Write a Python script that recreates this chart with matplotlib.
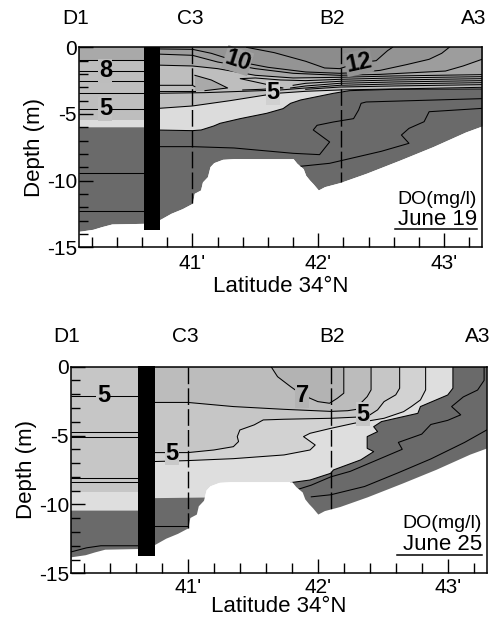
import numpy as np
import matplotlib
matplotlib.use('Agg')
import matplotlib.pyplot as plt
from matplotlib.ticker import MultipleLocator, FixedLocator
from matplotlib.transforms import blended_transform_factory

plt.rcParams['font.family'] = ['Liberation Sans', 'DejaVu Sans']
plt.rcParams['axes.unicode_minus'] = False

# stations along the transect (latitude = minutes past 34°N)
station_names = ['D1', 'C3', 'B2', 'A3']
station_lat = [40.07, 40.98, 42.11, 43.23]
lat_ticks = [41, 42, 43]
lat_labels = ["41'", "42'", "43'"]
depth_ticks = [0, -5, -10, -15]

# bottom profile of the transect
seabed_lat = [40.10, 40.21, 40.28, 40.36, 40.62, 40.745, 40.83, 40.92, 41.0, 41.015, 41.065,
              41.08, 41.12, 41.14, 41.17, 41.24, 41.33, 41.80, 41.83, 41.88, 41.90, 41.93,
              41.96, 42.0, 42.05, 42.17, 42.38, 42.65, 42.91, 43.17, 43.30]
seabed_depth = [-13.8, -13.65, -13.45, -13.25, -13.2, -12.9, -12.45, -12.1, -11.7, -10.95, -10.7,
                -10.1, -9.7, -8.95, -8.65, -8.4, -8.35, -8.35, -8.7, -9.1, -9.6, -9.95,
                -10.25, -10.7, -10.45, -10.15, -9.45, -8.45, -7.45, -6.35, -5.9]

# black bar (structure near D1)
bar_lat = [40.615, 40.745]
bar_depth = -13.72

# ---------------- June 19 ----------------
j19_dashed = [41.0, 42.18]
j19_left_levels = [-0.95, -1.75, -2.5, -3.4, -4.6, -9.45, -12.25]
j19_b4 = [(40.10, -6.0), (40.70, -6.0), (40.70, -6.2), (41.0, -6.25), (41.07, -6.2), (41.17, -5.9),
          (41.22, -5.7), (41.38, -5.35), (41.59, -4.95), (41.72, -4.6), (41.78, -4.2), (41.86, -3.95),
          (41.99, -3.7), (42.12, -3.45), (42.25, -3.25), (42.6, -3.15), (43.30, -3.12)]
j19_b5 = [(40.10, -5.45), (40.70, -5.45), (40.70, -4.6), (41.0, -4.4), (41.3, -4.0), (41.5, -3.7),
          (41.67, -3.45), (41.9, -3.3), (42.17, -3.2), (43.30, -3.0)]
j19_b9 = [(40.10, -0.95), (40.70, -0.95), (40.70, -1.33), (41.0, -1.4), (41.2, -1.6), (41.5, -2.1),
          (41.8, -2.3), (42.17, -2.25), (42.6, -2.15), (43.30, -2.05)]
j19_c = [(40.70, -0.5), (41.0, -0.6), (41.2, -1.1), (41.5, -1.6), (41.8, -1.95), (42.17, -2.1),
         (42.49, -2.03), (43.01, -1.78), (43.15, -1.4), (43.30, -0.9)]
j19_a = [(40.70, -0.12), (41.0, -0.15), (41.15, -0.45), (41.35, -1.05), (41.6, -1.5), (41.9, -1.85),
         (42.17, -1.95), (42.3, -1.9), (42.49, -1.73), (42.7, -1.3), (42.88, -0.9), (42.98, -0.45),
         (43.04, 0)]
j19_b = [(41.43, 0), (41.65, -0.4), (41.9, -1.05), (42.05, -1.55), (42.17, -1.6), (42.3, -1.2),
         (42.46, -1.0), (42.55, -0.25), (42.59, 0)]
j19_tongue = [(41.02, -2.1), (41.15, -2.45), (41.28, -3.05), (41.1, -3.25), (41.02, -3.3)]
j19_lines = [
    [(40.70, -2.85), (41.0, -2.85), (41.02, -2.95)],
    [(41.02, -3.3), (40.70, -3.3)],
    [(43.30, -2.2), (42.6, -2.3), (42.17, -2.4), (41.9, -2.5), (41.7, -2.45), (41.5, -2.3),
     (41.38, -2.35), (41.55, -2.7), (41.72, -3.05), (41.55, -3.15), (41.4, -3.2)],
    [(43.30, -2.35), (42.6, -2.45), (42.17, -2.55), (41.9, -2.7), (41.8, -2.85)],
    [(43.30, -2.5), (42.6, -2.6), (42.17, -2.7), (41.9, -2.9), (41.78, -3.05)],
    [(43.30, -2.65), (42.6, -2.75), (42.17, -2.85), (41.9, -3.05), (41.7, -3.2), (41.4, -3.3),
     (41.1, -3.4), (40.70, -3.45)],
    [(43.30, -2.8), (42.6, -2.9), (42.17, -2.98), (41.9, -3.15)],
    [(40.70, -7.45), (41.0, -7.45), (41.33, -7.55), (41.8, -7.95), (42.01, -8.05), (42.09, -7.1),
     (41.96, -6.2), (41.99, -5.85), (42.12, -5.6), (42.28, -5.35), (42.32, -4.7), (42.34, -4.2),
     (42.38, -4.1), (43.30, -3.85)],
    [(43.30, -4.58), (42.88, -4.83), (42.84, -5.58), (42.72, -6.08), (42.66, -6.58), (42.72, -7.2),
     (42.5, -7.8), (42.09, -8.7), (41.83, -8.95)],
]
j19_labels = [('8', 40.31, -1.75, 0, '#bdbdbd'), ('5', 40.31, -4.6, 0, '#c2c2c2'),
              ('10', 41.36, -1.0, -18, '#a0a0a0'), ('12', 42.32, -1.15, 12, '#939393'),
              ('5', 41.64, -3.4, 0, '#d0d0d0')]

# ---------------- June 25 ----------------
j25_dashed = [41.0, 42.1]
j25_left_levels = [-2.13, -4.72, -5.13, -8.1, -8.35]
j25_left_zone = [-9.07]
j25_dark_left = [(40.10, -10.45), (40.70, -10.45), (40.70, -9.55), (41.15, -9.5)]
j25_dark_right = [(43.04, 0), (43.04, -1.57), (43.0, -2.06), (42.79, -2.9), (42.77, -3.39),
                  (42.49, -3.99), (42.43, -4.36), (42.46, -4.72), (42.38, -5.08), (42.38, -5.93),
                  (42.43, -6.17), (42.33, -6.77), (42.12, -7.5), (42.1, -7.74), (41.94, -8.23),
                  (41.79, -8.42)]
j25_w2 = [(40.70, -6.9), (41.0, -6.82), (41.35, -6.68), (41.74, -6.41), (41.94, -6.05), (41.98, -5.69),
          (41.89, -5.08), (41.94, -4.84), (42.1, -4.48), (42.28, -4.11), (42.36, -3.99), (42.51, -3.75),
          (42.66, -3.27), (42.72, -2.9), (42.79, -2.42), (42.83, -1.69), (42.83, 0)]
j25_w1 = [(40.70, -6.24), (41.0, -6.24), (41.2, -6.05), (41.35, -5.81), (41.39, -5.44), (41.38, -5.08),
          (41.4, -4.6), (41.51, -4.23), (41.58, -3.87), (41.74, -3.82), (42.1, -3.75), (42.38, -3.63),
          (42.46, -3.14), (42.51, -2.54), (42.6, -2.05), (42.63, -1.57), (42.63, 0)]
j25_pv = [(40.70, -2.6), (41.0, -2.6), (41.35, -2.9), (41.74, -3.1), (42.1, -3.25), (42.23, -3.2),
          (42.3, -3.1), (42.31, -2.9), (42.33, -2.66), (42.38, -2.18), (42.41, -1.69), (42.41, 0)]
j25_q = [(41.64, 0), (41.69, -0.73), (41.79, -1.45), (41.88, -2.05), (42.0, -2.54), (42.09, -2.66),
         (42.15, -2.3), (42.2, -1.93), (42.2, -1.0), (42.2, 0)]
j25_lines = [
    [(40.10, -13.45), (40.22, -13.15), (40.33, -13.0), (40.70, -13.0)],
    [(40.70, -11.6), (41.05, -11.6)],
    [(43.28, 0), (43.28, -1.0), (43.23, -1.7), (43.12, -2.2), (43.03, -2.9), (43.1, -3.5),
     (43.0, -3.9), (42.87, -4.2), (42.8, -4.9), (42.62, -5.5), (42.65, -6.0), (42.45, -6.8),
     (42.25, -7.6), (42.1, -8.0), (41.95, -8.6), (41.85, -8.9)],
    [(41.95, -9.45), (42.1, -9.3), (42.36, -8.7), (42.62, -7.7), (42.87, -6.7), (43.13, -5.5),
     (43.30, -4.6)],
]
j25_labels = [('5', 40.35, -2.13, 0, '#c6c6c6'), ('5', 40.88, -6.3, 0, '#c9c9c9'),
              ('7', 41.88, -2.1, 0, '#b3b3b3'), ('5', 42.35, -3.45, 0, '#c6c6c6')]

DARK = '#6a6a6a'


def xy(pts):
    return [p[0] for p in pts], [p[1] for p in pts]


def zone_above(ax, pts, color):
    xs, ys = xy(pts)
    ax.fill(xs + [xs[-1], xs[0]], ys + [0, 0], color=color, lw=0, zorder=1)


def zone_below(ax, pts, color):
    xs, ys = xy(pts)
    ax.fill(xs + [xs[-1], xs[0]], ys + [-15, -15], color=color, lw=0, zorder=1)


def iso(ax, pts):
    xs, ys = xy(pts)
    ax.plot(xs, ys, color='k', lw=0.75, zorder=2)


def clabel(ax, s, x, y, rot, bg):
    ax.text(x, y, s, fontsize=17, fontweight='bold', ha='center', va='center', rotation=rot,
            zorder=2.1, bbox=dict(boxstyle='square,pad=0.02', fc=bg, ec='none'))


def setup(ax, dashed, date, tick_pad, xlabelpad):
    # mask below the seabed
    ax.fill_between(seabed_lat, seabed_depth, -15, color='white', lw=0, zorder=2.2)
    for x in dashed:
        bot = np.interp(x, seabed_lat, seabed_depth)
        ax.plot([x, x], [0, bot], color='k', lw=1.0, dashes=(12, 3), zorder=2.3)
    ax.fill_between(bar_lat, bar_depth, 0.05, color='black', lw=0, zorder=2.4, clip_on=False)
    ax.set_xlim(40.10, 43.30)
    ax.set_ylim(-15, 0)
    ax.set_axisbelow(False)
    ax.xaxis.set_major_locator(FixedLocator(lat_ticks))
    ax.set_xticklabels(lat_labels)
    ax.xaxis.set_minor_locator(MultipleLocator(0.2))
    ax.yaxis.set_major_locator(FixedLocator(depth_ticks))
    ax.yaxis.set_minor_locator(MultipleLocator(1))
    ax.tick_params(which='both', direction='in', labelsize=15, width=1.0)
    ax.tick_params(axis='x', which='major', length=10, pad=tick_pad)
    ax.tick_params(axis='x', which='minor', length=7)
    ax.tick_params(axis='y', which='major', length=10, pad=1.5)
    ax.tick_params(axis='y', which='minor', length=6.5)
    for s in ax.spines.values():
        s.set_linewidth(1.1)
        s.set_zorder(2.5)
    ax.set_xlabel('Latitude 34°N', fontsize=16, labelpad=xlabelpad)
    ax.set_ylabel('Depth (m)', fontsize=16, labelpad=1)
    tr = blended_transform_factory(ax.transData, ax.transAxes)
    for name, x in zip(station_names, station_lat):
        ax.text(x, 1.145, name, transform=tr, fontsize=15, ha='center', va='center')
    ax.text(0.988, 0.24, 'DO(mg/l)', transform=ax.transAxes, fontsize=14, ha='right', va='center',
            zorder=3)
    ax.text(0.988, 0.14, date, transform=ax.transAxes, fontsize=16, ha='right', va='center', zorder=3)
    ax.plot([0.784, 0.988], [0.09, 0.09], transform=ax.transAxes, color='k', lw=1.1, zorder=3)


fig = plt.figure(figsize=(5.02, 6.2), dpi=100)

# ---- June 19 panel ----
ax1 = fig.add_axes([0.1574, 0.6011, 0.8028, 0.3226])
ax1.fill_between(seabed_lat, seabed_depth, 0, color=DARK, lw=0, zorder=1)
zone_above(ax1, j19_b4, '#dcdcdc')
zone_above(ax1, j19_b5, '#bebebe')
zone_above(ax1, j19_b9, '#a9a9a9')
zone_above(ax1, j19_c, '#9d9d9d')
zone_above(ax1, j19_a, '#949494')
zone_above(ax1, j19_b, '#8c8c8c')
tx, ty = xy(j19_tongue)
ax1.fill(tx, ty, color='#a9a9a9', lw=0, zorder=1)
ax1.hlines(j19_left_levels, 40.10, bar_lat[0], color='k', lw=0.75, zorder=2)
for pts in [j19_b4[2:], j19_b5[2:], j19_b9[2:], j19_c, j19_a, j19_b, j19_tongue[:-1]] + j19_lines:
    iso(ax1, pts)
for s, x, y, r, bg in j19_labels:
    clabel(ax1, s, x, y, r, bg)
setup(ax1, j19_dashed, 'June 19', 5, 2)

# ---- June 25 panel ----
ax2 = fig.add_axes([0.1414, 0.0753, 0.8281, 0.3334])
ax2.fill_between(seabed_lat, seabed_depth, 0, color='#dedede', lw=0, zorder=1)
ax2.fill_between([40.10, bar_lat[0]], j25_left_zone[0], 0, color='#c6c6c6', lw=0, zorder=1)
zone_below(ax2, j25_dark_left, DARK)
dx, dy = xy(j25_dark_right)
ax2.fill(dx + [41.79, 43.30, 43.30], dy + [-15, -15, 0], color=DARK, lw=0, zorder=1)
for pts, c in [(j25_w2, '#d2d2d2'), (j25_w1, '#c6c6c6'), (j25_pv, '#bcbcbc'), (j25_q, '#b3b3b3')]:
    xs, ys = xy(pts)
    ax2.fill(xs + [40.70], ys + [0], color=c, lw=0, zorder=1)
ax2.hlines(j25_left_levels, 40.10, bar_lat[0], color='k', lw=0.75, zorder=2)
for pts in [j25_dark_right, j25_w2, j25_w1, j25_pv, j25_q] + j25_lines:
    iso(ax2, pts)
for s, x, y, r, bg in j25_labels:
    clabel(ax2, s, x, y, r, bg)
setup(ax2, j25_dashed, 'June 25', 3.5, -1)

fig.savefig('out.png', dpi=100)
